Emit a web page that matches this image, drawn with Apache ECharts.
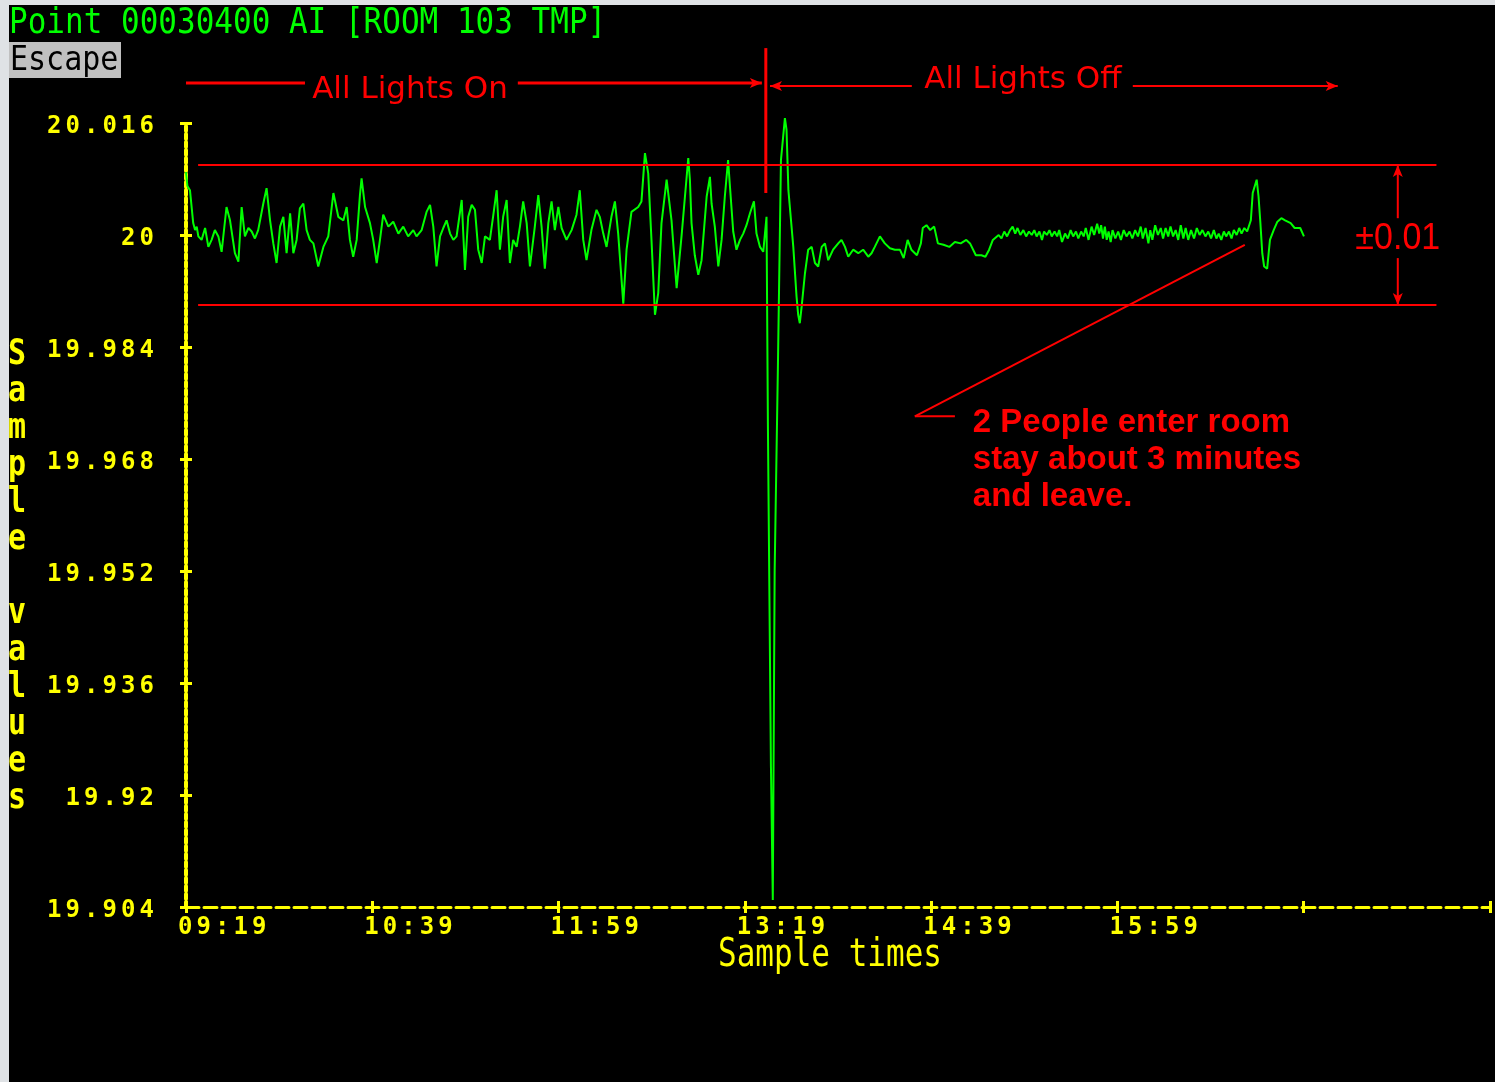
<!DOCTYPE html>
<html><head><meta charset="utf-8">
<script src="https://cdn.jsdelivr.net/npm/echarts@6/dist/echarts.min.js"></script>
<style>
html,body{margin:0;padding:0;background:#dfe2e5;width:1495px;height:1082px;overflow:hidden}
#c{position:absolute;left:9px;top:5px;width:1486px;height:1077px}
</style></head><body><div id="c"></div>
<script>
// minutes after 09:19, sampled value
const lightsOnSamples = [
[0.0,20.0090],[0.6,20.0070],[1.7,20.0064],[3.1,20.0017],[3.9,20.0007],[4.6,20.0012],[5.3,19.9998],[6.7,19.9993],
[8.2,20.0010],[9.6,19.9983],[11.0,19.9993],[12.4,20.0007],[13.9,19.9998],[15.3,19.9976],[17.4,20.0040],[18.9,20.0021],
[21.0,19.9974],[22.5,19.9962],[23.9,20.0040],[25.3,19.9998],[26.8,20.0010],[28.2,20.0005],[29.6,19.9995],[31.0,20.0007],
[33.2,20.0045],[34.6,20.0067],[36.1,20.0021],[37.5,19.9988],[38.9,19.9960],[40.4,20.0012],[41.8,20.0026],[43.2,19.9974],
[44.7,20.0031],[46.1,19.9974],[47.5,19.9993],[48.9,20.0038],[50.4,20.0045],[51.8,20.0007],[53.2,19.9993],[54.7,19.9988],
[56.8,19.9955],[59.0,19.9983],[61.1,19.9998],[63.3,20.0060],[65.4,20.0026],[67.6,20.0021],[69.0,20.0040],[70.4,19.9993],
[71.8,19.9969],[73.3,19.9993],[74.7,20.0057],[75.4,20.0081],[76.9,20.0040],[79.0,20.0017],[80.4,19.9993],[81.9,19.9960],
[83.3,19.9993],[84.7,20.0029],[86.9,20.0012],[89.0,20.0019],[91.2,20.0002],[93.3,20.0012],[95.4,19.9998],[97.6,20.0007],
[99.0,19.9998],[101.2,20.0007],[103.3,20.0033],[104.8,20.0043],[106.2,20.0012],[107.6,19.9955],[109.1,19.9998],[110.5,20.0010],
[111.9,20.0021],[113.4,20.0002],[114.8,19.9993],[116.2,19.9998],[118.4,20.0050],[119.8,19.9950],[121.2,20.0026],[122.7,20.0043],
[124.1,20.0036],[125.5,19.9979],[127.0,19.9960],[128.4,19.9998],[130.5,19.9993],[132.0,20.0029],[133.4,20.0064],[134.8,19.9979],
[136.2,20.0026],[137.7,20.0050],[139.1,19.9960],[140.5,19.9993],[142.0,19.9983],[143.4,20.0012],[144.8,20.0048],[146.3,20.0017],
[147.7,19.9955],[149.8,20.0012],[151.3,20.0057],[152.7,20.0012],[154.1,19.9952],[155.6,20.0017],[157.0,20.0048],[158.4,20.0007],
[159.9,20.0040],[161.3,20.0010],[163.4,19.9993],[165.6,20.0007],[167.7,20.0029],[169.1,20.0064],[170.6,19.9993],[172.0,19.9964],
[174.1,20.0007],[176.3,20.0036],[177.7,20.0026],[179.2,20.0002],[180.6,19.9983],[182.7,20.0026],[184.2,20.0048],[185.6,20.0002],
[187.8,19.9902],[189.2,19.9979],[191.3,20.0033],[194.2,20.0040],[195.6,20.0048],[197.1,20.0117],[198.5,20.0088],[199.9,19.9993],
[201.4,19.9886],[202.8,19.9917],[204.2,20.0017],[206.4,20.0079],[208.5,20.0021],[210.7,19.9924],[212.8,19.9998],[215.7,20.0110],
[216.4,20.0079],[217.1,20.0017],[218.5,19.9971],[220.0,19.9943],[221.4,19.9964],[223.6,20.0055],[225.0,20.0083],[225.7,20.0045],
[227.1,20.0012],[228.6,19.9955],[230.0,19.9993],[231.4,20.0055],[232.8,20.0107],[233.5,20.0074],[235.0,20.0005],[236.4,19.9979],
[237.9,19.9993],[239.3,20.0002],[240.7,20.0014],[242.2,20.0031],[243.9,20.0048],[245.0,20.0002],[246.5,19.9983],[247.9,19.9976],
[249.3,20.0026]
];
const transitionSamples = [
[249.9,19.9729],[251.2,19.9241],[252.0,19.9050],[252.8,19.9521],[254.2,19.9814],[255.5,20.0107],[257.2,20.0167],[257.9,20.0150],
[258.7,20.0064],[260.8,19.9983],[262.2,19.9912],[262.9,19.9886],[263.6,19.9874],[264.4,19.9898],[265.8,19.9945],[267.2,19.9979]
];
const lightsOffSamples = [
[268.7,19.9983],[270.1,19.9960],[271.5,19.9955],[273.0,19.9983],[274.4,19.9988],[275.8,19.9964],[277.9,19.9979],[280.1,19.9988],
[281.5,19.9993],[283.0,19.9983],[284.4,19.9969],[286.5,19.9979],[288.7,19.9974],[290.8,19.9979],[293.0,19.9969],[294.4,19.9974],
[295.8,19.9983],[298.0,19.9998],[300.1,19.9988],[302.3,19.9981],[304.4,19.9979],[306.6,19.9979],[308.2,19.9967],[309.9,19.9993],
[311.5,19.9979],[313.9,19.9971],[315.6,19.9988],[316.4,20.0010],[318.0,20.0014],[319.6,20.0007],[321.3,20.0012],[322.9,19.9988],
[325.3,19.9986],[327.8,19.9983],[330.2,19.9990],[332.7,19.9988],[335.1,19.9993],[336.7,19.9988],[339.2,19.9971],[341.6,19.9971],
[343.3,19.9969],[344.9,19.9979],[346.5,19.9993],[349.0,20.0000],[350.2,19.9995],[351.4,20.0005],[352.6,19.9998],[353.9,20.0007],
[355.0,20.0012],[356.1,20.0002],[357.1,20.0010],[358.3,20.0000],[359.6,20.0007],[360.8,19.9998],[362.0,20.0005],[363.2,20.0000],
[364.3,20.0007],[365.3,19.9998],[366.5,20.0005],[367.6,19.9993],[368.5,20.0005],[369.7,20.0000],[370.8,20.0007],[371.8,19.9998],
[373.0,20.0005],[374.1,19.9998],[375.0,20.0007],[376.2,19.9990],[377.5,20.0002],[378.7,19.9995],[379.9,20.0007],[381.0,19.9998],
[382.2,20.0005],[383.2,19.9995],[384.4,20.0005],[385.5,19.9998],[386.4,20.0010],[387.6,19.9993],[388.9,20.0012],[390.0,20.0000],
[391.3,20.0016],[392.2,20.0002],[393.0,20.0014],[393.8,19.9995],[394.6,20.0012],[395.4,19.9993],[396.2,20.0005],[397.1,19.9990],
[397.9,20.0007],[399.1,19.9995],[400.3,20.0005],[401.5,19.9993],[402.7,20.0007],[403.9,19.9998],[405.2,20.0005],[406.4,19.9995],
[407.6,20.0007],[408.8,19.9998],[410.0,20.0012],[410.9,19.9995],[412.1,20.0010],[413.3,19.9988],[414.1,20.0007],[415.0,19.9993],
[416.2,20.0014],[417.4,20.0000],[418.6,20.0010],[419.6,19.9995],[420.7,20.0010],[421.8,19.9998],[422.8,20.0012],[423.9,19.9998],
[425.0,20.0007],[426.1,19.9993],[427.2,20.0014],[428.3,19.9995],[429.3,20.0010],[430.4,19.9993],[431.6,20.0007],[432.9,19.9995],
[434.1,20.0010],[435.3,20.0000],[436.5,20.0007],[437.8,19.9998],[439.0,20.0005],[440.2,19.9995],[441.4,20.0007],[442.5,19.9995],
[443.5,20.0002],[444.6,19.9993],[445.7,20.0005],[446.7,19.9998],[447.9,20.0005],[449.0,19.9995],[450.0,20.0007],[451.2,20.0000],
[452.3,20.0010],[453.3,20.0002],[454.5,20.0010],[455.7,20.0005],[457.3,20.0021],[458.1,20.0060],[459.8,20.0079],[460.6,20.0055],
[461.4,20.0017],[462.2,19.9974],[463.0,19.9955],[464.3,19.9952],[465.5,19.9993],[467.1,20.0007],[468.7,20.0019],[470.4,20.0024],
[472.0,20.0021],[474.4,20.0017],[476.1,20.0010],[478.5,20.0010],[480.1,19.9998]
];
const xTickLabels = ['09:19','10:39','11:59','13:19','14:39','15:59','',''];
const yTickLabels = ['19.904','19.92','19.936','19.952','19.968','19.984','20','20.016'];
const limitValues = [20.01, 19.99];
const limitSpan = [5.2, 537];
const lightsOffMinute = 249.0;

const YEL = '#ffff00', RED = '#ff0000', GRN = '#00ff00';
const chars = s => s.split('').map(c => '{c|' + c + '}').join('');
const tickFont = {c: {width: 18.5, fontFamily: 'DejaVu Sans Mono', fontWeight: 'bold', fontSize: 24, color: YEL}};
const xBase = {type: 'value', min: 0, max: 560, interval: 80, position: 'bottom', splitLine: {show: false}};
const yBase = {type: 'value', min: 19.904, max: 20.016, interval: 0.016, position: 'left', splitLine: {show: false}};
const tickStyle = {color: YEL, width: 3};

const chart = echarts.init(document.getElementById('c'), null, {renderer: 'canvas'});
chart.setOption({
  backgroundColor: '#000000',
  animation: false,
  grid: {left: 177, top: 118, width: 1304, height: 784},
  xAxis: [
    Object.assign({}, xBase, {
      axisLine: {show: true, onZero: false, lineStyle: {color: YEL, width: 3, type: [13, 5]}},
      axisTick: {show: true, inside: false, length: 6, lineStyle: tickStyle},
      axisLabel: {show: true, interval: 0, align: 'left', margin: 9, padding: [0, 0, 0, -8],
        showMinLabel: true, showMaxLabel: true,
        formatter: v => chars(xTickLabels[Math.round(v / 80)] || ''), rich: tickFont}
    }),
    Object.assign({}, xBase, {
      axisLine: {show: false}, axisLabel: {show: false},
      axisTick: {show: true, inside: true, length: 6, lineStyle: tickStyle}
    })
  ],
  yAxis: [
    Object.assign({}, yBase, {
      axisLine: {show: true, onZero: false, lineStyle: {color: YEL, width: 4, type: [5, 3]}},
      axisTick: {show: true, inside: false, length: 6, lineStyle: tickStyle},
      axisLabel: {show: true, interval: 0, margin: 32, padding: [7, 0, 0, 0],
        showMinLabel: true, showMaxLabel: true,
        formatter: v => chars(yTickLabels[Math.round((v - 19.904) / 0.016)] || ''), rich: tickFont}
    }),
    Object.assign({}, yBase, {
      axisLine: {show: false}, axisLabel: {show: false},
      axisTick: {show: true, inside: true, length: 6, lineStyle: tickStyle}
    })
  ],
  series: [{
    type: 'line',
    xAxisIndex: 0, yAxisIndex: 0,
    data: lightsOnSamples.concat(transitionSamples, lightsOffSamples),
    showSymbol: false, symbol: 'none', clip: false, silent: true,
    lineStyle: {color: GRN, width: 2}, itemStyle: {color: GRN},
    markLine: {
      silent: true, symbol: ['none', 'none'], label: {show: false},
      lineStyle: {color: RED, width: 2, type: 'solid'},
      emphasis: {disabled: true},
      data: limitValues.map(v => [{coord: [limitSpan[0], v]}, {coord: [limitSpan[1], v]}])
    }
  }]
});

const px = (t, v) => chart.convertToPixel({seriesIndex: 0}, [t, v]);
const seg = (a, b, w) => ({type: 'line', silent: true, z: 50,
  shape: {x1: a[0], y1: a[1], x2: b[0], y2: b[1]}, style: {stroke: RED, lineWidth: w}});
function head(tip, deg) {
  const a = deg * Math.PI / 180, ca = Math.cos(a), sa = Math.sin(a);
  const p = (dx, dy) => [tip[0] + dx * ca - dy * sa, tip[1] + dx * sa + dy * ca];
  return {type: 'polygon', silent: true, z: 50,
    shape: {points: [p(0, 0), p(-12, -5), p(-9, 0), p(-12, 5)]}, style: {fill: RED}};
}
function txt(x, y, text, o) {
  return {type: 'text', x: x, y: y, silent: true, z: 60,
    scaleX: o.sx || 1, scaleY: o.sy || 1, originX: 0, originY: 0,
    style: Object.assign({text: text, textAlign: o.align || 'left', align: o.align || 'left',
      textVerticalAlign: o.va || 'middle', verticalAlign: o.va || 'middle'}, o.style)};
}

// annotation anchors (minutes, value)
const onY = 20.0217, offY = 20.0213;
const lOnA = px(0, onY), lOnB = px(51.1, onY), lOnC = px(142.5, onY), lOnD = px(247.3, onY);
const lOffA = px(250.8, offY), lOffB = px(311.7, offY), lOffC = px(406.6, offY), lOffD = px(494.6, offY);
const vTop = px(lightsOffMinute, 20.0267), vBot = px(lightsOffMinute, 20.0060);
const bandT = 520.4;
const bU1 = px(bandT, 20.0024), bU2 = px(bandT, limitValues[0]);
const bL1 = px(bandT, 19.9967), bL2 = px(bandT, limitValues[1]);
const bandTxt = px(bandT, 19.99943);
const pA = px(454.7, 19.9986), pB = px(313.0, 19.9741), pC = px(330.2, 19.9741);
const noteP = px(337.9, 19.97579);
const onTxt = px(96.2, 20.0207), offTxt = px(359.4, 20.0221);

const redFont = {fill: RED, fontFamily: 'DejaVu Sans', fontSize: 31};
const elements = [
  // header
  txt(0, 19, 'Point 00030400 AI [ROOM 103 TMP]', {sy: 1.15, style: {fill: GRN, fontFamily: 'DejaVu Sans Mono', fontSize: 31}}),
  {type: 'rect', shape: {x: 0, y: 37, width: 112, height: 36}, style: {fill: '#c0c0c0'}, silent: true, z: 40},
  txt(1, 56, 'Escape', {sy: 1.1, style: {fill: '#000000', fontFamily: 'DejaVu Sans Mono', fontSize: 30}}),
  // axis names
  txt(8, 331.5, 'S\na\nm\np\nl\ne\n \nv\na\nl\nu\ne\ns', {align: 'center', va: 'top', sy: 1.2,
    style: {fill: YEL, fontFamily: 'DejaVu Sans Mono', fontWeight: 'bold', fontSize: 30, lineHeight: 30.83}}),
  txt(709, 951, 'Sample times', {sy: 1.25, style: {fill: YEL, fontFamily: 'DejaVu Sans Mono', fontSize: 31}}),
  // lights on / off
  seg(lOnA, lOnB, 3), seg(lOnC, lOnD, 3), head(lOnD, 0),
  txt(onTxt[0], onTxt[1], 'All Lights On', {align: 'center', style: redFont}),
  seg(vTop, vBot, 3),
  seg(lOffA, lOffB, 2), head(lOffA, 180), seg(lOffC, lOffD, 2), head(lOffD, 0),
  txt(offTxt[0], offTxt[1], 'All Lights Off', {align: 'center', style: redFont}),
  // band
  seg(bU1, bU2, 2), head(bU2, -90), seg(bL1, bL2, 2), head(bL2, 90),
  txt(bandTxt[0], bandTxt[1], '\u00b10.01', {align: 'center', sy: 1.1, style: {fill: RED, fontFamily: 'Liberation Sans', fontSize: 34}}),
  // pointer + note
  seg(pA, pB, 2), seg(pB, pC, 2),
  txt(noteP[0], noteP[1], '2 People enter room\nstay about 3 minutes\nand leave.', {va: 'top',
    style: {fill: RED, fontFamily: 'Liberation Sans', fontWeight: 'bold', fontSize: 33, lineHeight: 37}})
];
chart.setOption({graphic: {elements: elements}});
</script></body></html>
